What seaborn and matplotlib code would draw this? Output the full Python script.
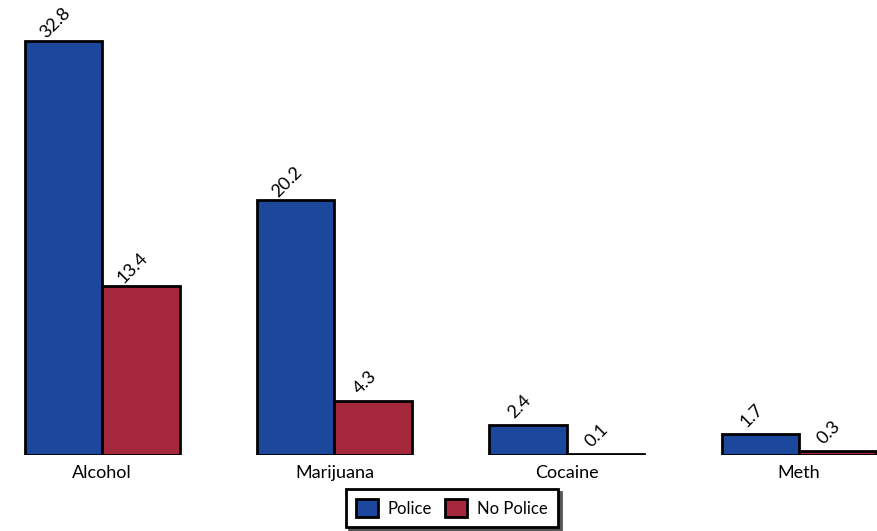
import numpy as np
import pandas as pd
import matplotlib
matplotlib.use("Agg")
import matplotlib.pyplot as plt
import seaborn as sns

# data
drugs = ["Alcohol", "Marijuana", "Cocaine", "Meth"]
police = [32.8, 20.2, 2.4, 1.7]
no_police = [13.4, 4.3, 0.1, 0.3]
groups = ["Police", "No Police"]
colors = ["#1b479c", "#a6283d"]

df = pd.DataFrame({
    "drug": drugs * 2,
    "group": [groups[0]] * 4 + [groups[1]] * 4,
    "value": police + no_police,
})

sns.set_style("white")
plt.rcParams["font.family"] = ["Lato", "DejaVu Sans"]
plt.rcParams["text.color"] = "black"
plt.rcParams["xtick.color"] = "black"

fig = plt.figure(figsize=(8.78, 5.31), dpi=100)
ax = fig.add_axes([0, 76 / 531, 1, 455 / 531])

sns.barplot(data=df, x="drug", y="value", hue="group", palette=colors,
            width=2 / 3, edgecolor="black", linewidth=2, ax=ax,
            saturation=1, legend=True)

ax.set_xlim(-0.44, 3.34)
ax.set_ylim(0, 36.05)
sns.despine(ax=ax, left=True, bottom=True)
ax.set_yticks([])
ax.set_xlabel("")
ax.set_ylabel("")
ax.tick_params(axis="x", length=0, labelsize=13, pad=7, labelcolor="black")

for cont in ax.containers:
    for bar in cont:
        h = bar.get_height()
        x = bar.get_x() + bar.get_width() / 2
        ax.annotate(f"{h:.1f}", (x, h), xytext=(-2, 9), textcoords="offset points",
                    rotation=45, ha="center", va="bottom", rotation_mode="anchor",
                    fontsize=13, color="black")

leg = ax.legend(loc="center", bbox_to_anchor=(452 / 878, 23 / 531),
                bbox_transform=fig.transFigure, ncol=2, frameon=True,
                shadow={"color": "#555555", "alpha": 1}, fancybox=False,
                fontsize=12, handlelength=1.3, handleheight=1.3,
                columnspacing=0.8, handletextpad=0.6, borderpad=0.6)
leg.get_frame().set_edgecolor("black")
leg.get_frame().set_linewidth(2)
for t in leg.get_texts():
    t.set_color("black")

fig.savefig("out.png", dpi=100)
